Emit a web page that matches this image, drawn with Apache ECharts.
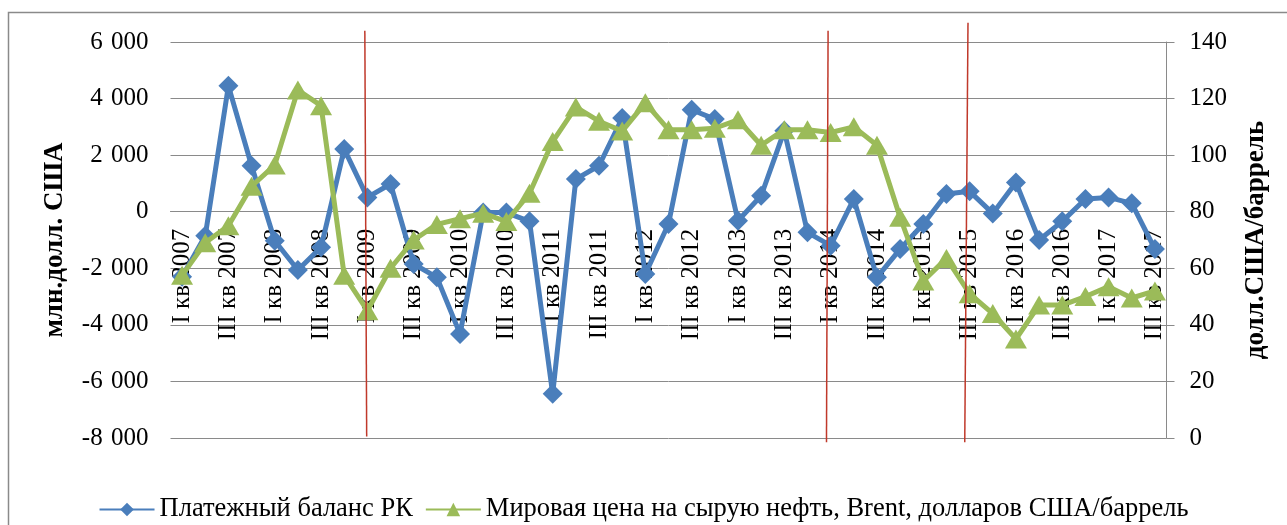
<!DOCTYPE html>
<html><head><meta charset="utf-8">
<script src="https://cdn.jsdelivr.net/npm/echarts@6/dist/echarts.min.js"></script>
<style>html,body{margin:0;padding:0;background:#fff}#c{width:1287px;height:525px}</style>
</head><body><div id="c"></div>
<script>
const categories = [
 'I кв 2007','II кв 2007','III кв 2007','IV кв 2007',
 'I кв 2008','II кв 2008','III кв 2008','IV кв 2008',
 'I кв 2009','II кв 2009','III кв 2009','IV кв 2009',
 'I кв 2010','II кв 2010','III кв 2010','IV кв 2010',
 'I кв 2011','II кв 2011','III кв 2011','IV кв 2011',
 'I кв 2012','II кв 2012','III кв 2012','IV кв 2012',
 'I кв 2013','II кв 2013','III кв 2013','IV кв 2013',
 'I кв 2014','II кв 2014','III кв 2014','IV кв 2014',
 'I кв 2015','II кв 2015','III кв 2015','IV кв 2015',
 'I кв 2016','II кв 2016','III кв 2016','IV кв 2016',
 'I кв 2017','II кв 2017','III кв 2017'
];
const balanceRK = [-2300,-850,4450,1625,-1025,-2060,-1260,2215,505,980,-1850,-2320,-4320,-30,-30,-340,-6440,1155,1625,3310,-2200,-435,3605,3275,-318,565,2860,-730,-1200,450,-2320,-1320,-435,625,720,-60,1035,-1000,-340,450,505,295,-1320];
const brentPrice = [57.5,69,75,89,96.5,123,117.5,57.5,45,60,70,75.5,77.5,79.5,76.5,86.5,104.8,117,112,108.5,118.5,109,109,109.5,112.5,103.5,109,109,108,110,103.5,78,55.5,63.5,51,44,35,47,47,50,53.5,49.5,52];
const leftTicks = {min:-8000, max:6000, interval:2000};
const rightTicks = {min:0, max:140, interval:20};
// red annotation lines: [category position, left-axis value] for top and bottom ends
const redLine1 = [[8.39, 6400], [8.47, -7950]];
const redLine2 = [[28.39, 6400], [28.32, -8150]];
const redLine3 = [[34.43, 6680], [34.29, -8150]];
const seriesNames = ['Платежный баланс РК','Мировая цена на сырую нефть, Brent, долларов США/баррель'];

const FONT = '"Liberation Serif","Times New Roman",serif';
const fmt = v => { const s = Math.abs(v).toString().replace(/\B(?=(\d{3})+(?!\d))/g, '\u2004'); return (v<0?'-':'')+s; };

const GRID = {left:170.5, right:120.5, top:42, bottom:87};
const plotH = 525 - GRID.top - GRID.bottom;
const zeroOffset = -plotH * (0 - leftTicks.min) / (leftTicks.max - leftTicks.min);

const redSeries = [redLine1, redLine2, redLine3].map((d, i) => ({
  name:'red'+i, type:'line', data:d, xAxisIndex:1, yAxisIndex:0, clip:false, silent:true,
  symbol:'none', lineStyle:{color:'#c0392b', width:1.5}, z:5
}));

const chart = echarts.init(document.getElementById('c'));
chart.setOption({
  animation:false,
  backgroundColor:'#fff',
  textStyle:{fontFamily:FONT},
  graphic:[{type:'rect', shape:{x:8.5,y:12.5,width:1400,height:700}, style:{fill:'none',stroke:'#8a8a8a',lineWidth:1.5}, z:-1}],
  grid:Object.assign({containLabel:false, outerBoundsMode:'none'}, GRID),
  legend:{
    top:491, left:'center', itemWidth:55, itemHeight:17, itemGap:12,
    textStyle:{fontFamily:FONT,fontSize:26.5,color:'#000'},
    data:seriesNames
  },
  xAxis:[{
    type:'category', data:categories, boundaryGap:true, position:'bottom', offset:zeroOffset,
    axisLine:{onZero:false, lineStyle:{color:'#8a8a8a',width:1}},
    axisTick:{show:false},
    axisLabel:{rotate:90, interval:1, margin:17, fontFamily:FONT, fontSize:25, color:'#000', hideOverlap:false}
  },{
    type:'value', min:0, max:categories.length, show:false, position:'top',
    axisLine:{onZero:false}
  }],
  yAxis:[{
    type:'value', min:leftTicks.min, max:leftTicks.max, interval:leftTicks.interval,
    name:'млн.долл. США', nameLocation:'middle', nameRotate:90, nameGap:102,
    nameTextStyle:{fontFamily:FONT,fontSize:27,fontWeight:'bold',color:'#000'},
    axisLine:{show:false, onZero:false}, axisTick:{show:false},
    axisLabel:{formatter:fmt, margin:22, fontFamily:FONT, fontSize:25, color:'#000'},
    splitLine:{lineStyle:{color:'#8a8a8a',width:1}}
  },{
    type:'value', min:rightTicks.min, max:rightTicks.max, interval:rightTicks.interval, position:'right',
    name:'долл.США/баррель', nameLocation:'middle', nameRotate:90, nameGap:76,
    nameTextStyle:{fontFamily:FONT,fontSize:27,fontWeight:'bold',color:'#000'},
    axisLine:{show:true, onZero:false, lineStyle:{color:'#8a8a8a',width:1}},
    axisTick:{show:true, inside:false, length:8, lineStyle:{color:'#8a8a8a'}},
    axisLabel:{margin:23, fontFamily:FONT, fontSize:25, color:'#000'},
    splitLine:{show:false}
  }],
  series:[{
    name:seriesNames[0], type:'line', data:balanceRK, xAxisIndex:0, yAxisIndex:0,
    symbol:'diamond', symbolSize:20, showAllSymbol:true,
    lineStyle:{color:'#4a7ebb',width:5}, itemStyle:{color:'#4a7ebb'}, z:3
  },{
    name:seriesNames[1], type:'line', data:brentPrice, xAxisIndex:0, yAxisIndex:1,
    symbol:'triangle', symbolSize:[22,19], showAllSymbol:true,
    lineStyle:{color:'#9bbb59',width:5}, itemStyle:{color:'#9bbb59'}, z:4
  }].concat(redSeries)
});
</script></body></html>
